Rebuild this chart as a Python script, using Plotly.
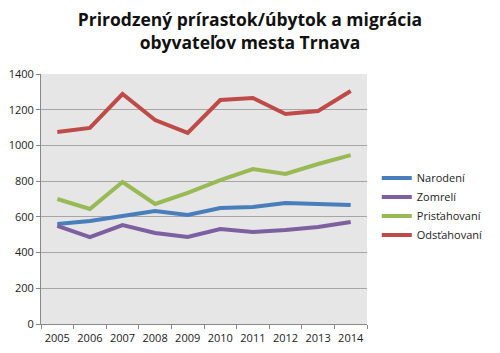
import plotly.graph_objects as go

years = ["2005", "2006", "2007", "2008", "2009", "2010", "2011", "2012", "2013", "2014"]
narodeni = [560, 577, 605, 633, 610, 650, 655, 678, 672, 666]
zomreli = [549, 487, 554, 510, 487, 532, 515, 526, 543, 571]
pristahovani = [700, 644, 795, 672, 734, 806, 868, 840, 896, 946]
odstahovani = [1075, 1098, 1288, 1142, 1070, 1254, 1266, 1176, 1193, 1305]
series_names = ["Narodení", "Zomrelí", "Prisťahovaní", "Odsťahovaní"]
colors = ["#4a7ebb", "#7d60a0", "#98b954", "#be4b48"]

fig = go.Figure()
for name, vals, c in zip(series_names, [narodeni, zomreli, pristahovani, odstahovani], colors):
    fig.add_trace(go.Scatter(x=years, y=vals, name=name, mode="lines",
                             line=dict(color=c, width=4)))

fig.update_layout(
    width=500, height=353,
    margin=dict(l=41, r=113, t=74, b=29),
    paper_bgcolor="white",
    plot_bgcolor="#e6e6e6",
    font=dict(family="Open Sans, Liberation Sans, sans-serif", size=11, color="#222"),
    title=dict(text="<b>Prirodzený prírastok/úbytok a migrácia<br>obyvateľov mesta Trnava</b>",
               x=0.5, xanchor="center", y=0.925, yanchor="middle",
               font=dict(size=17.5, color="#111")),
    legend=dict(x=1.03, xanchor="left", y=0.47, yanchor="middle",
                font=dict(size=11), itemwidth=30, tracegroupgap=4,
                bgcolor="rgba(0,0,0,0)"),
    showlegend=True,
)
fig.update_xaxes(type="category", showgrid=False, showline=True, linecolor="#888",
                 linewidth=1, ticks="outside", tickson="boundaries", ticklen=4,
                 tickcolor="#888", range=[-0.5, 9.5], tickangle=0,
                 tickfont=dict(size=11), automargin=False, ticklabelstandoff=4)
fig.update_yaxes(range=[0, 1400], dtick=200, showgrid=True, gridcolor="#a6a6a6",
                 gridwidth=1, showline=True, linecolor="#888", linewidth=1,
                 ticks="outside", ticklen=4, tickcolor="#888", zeroline=False,
                 automargin=False)

fig.write_html("out.html")
